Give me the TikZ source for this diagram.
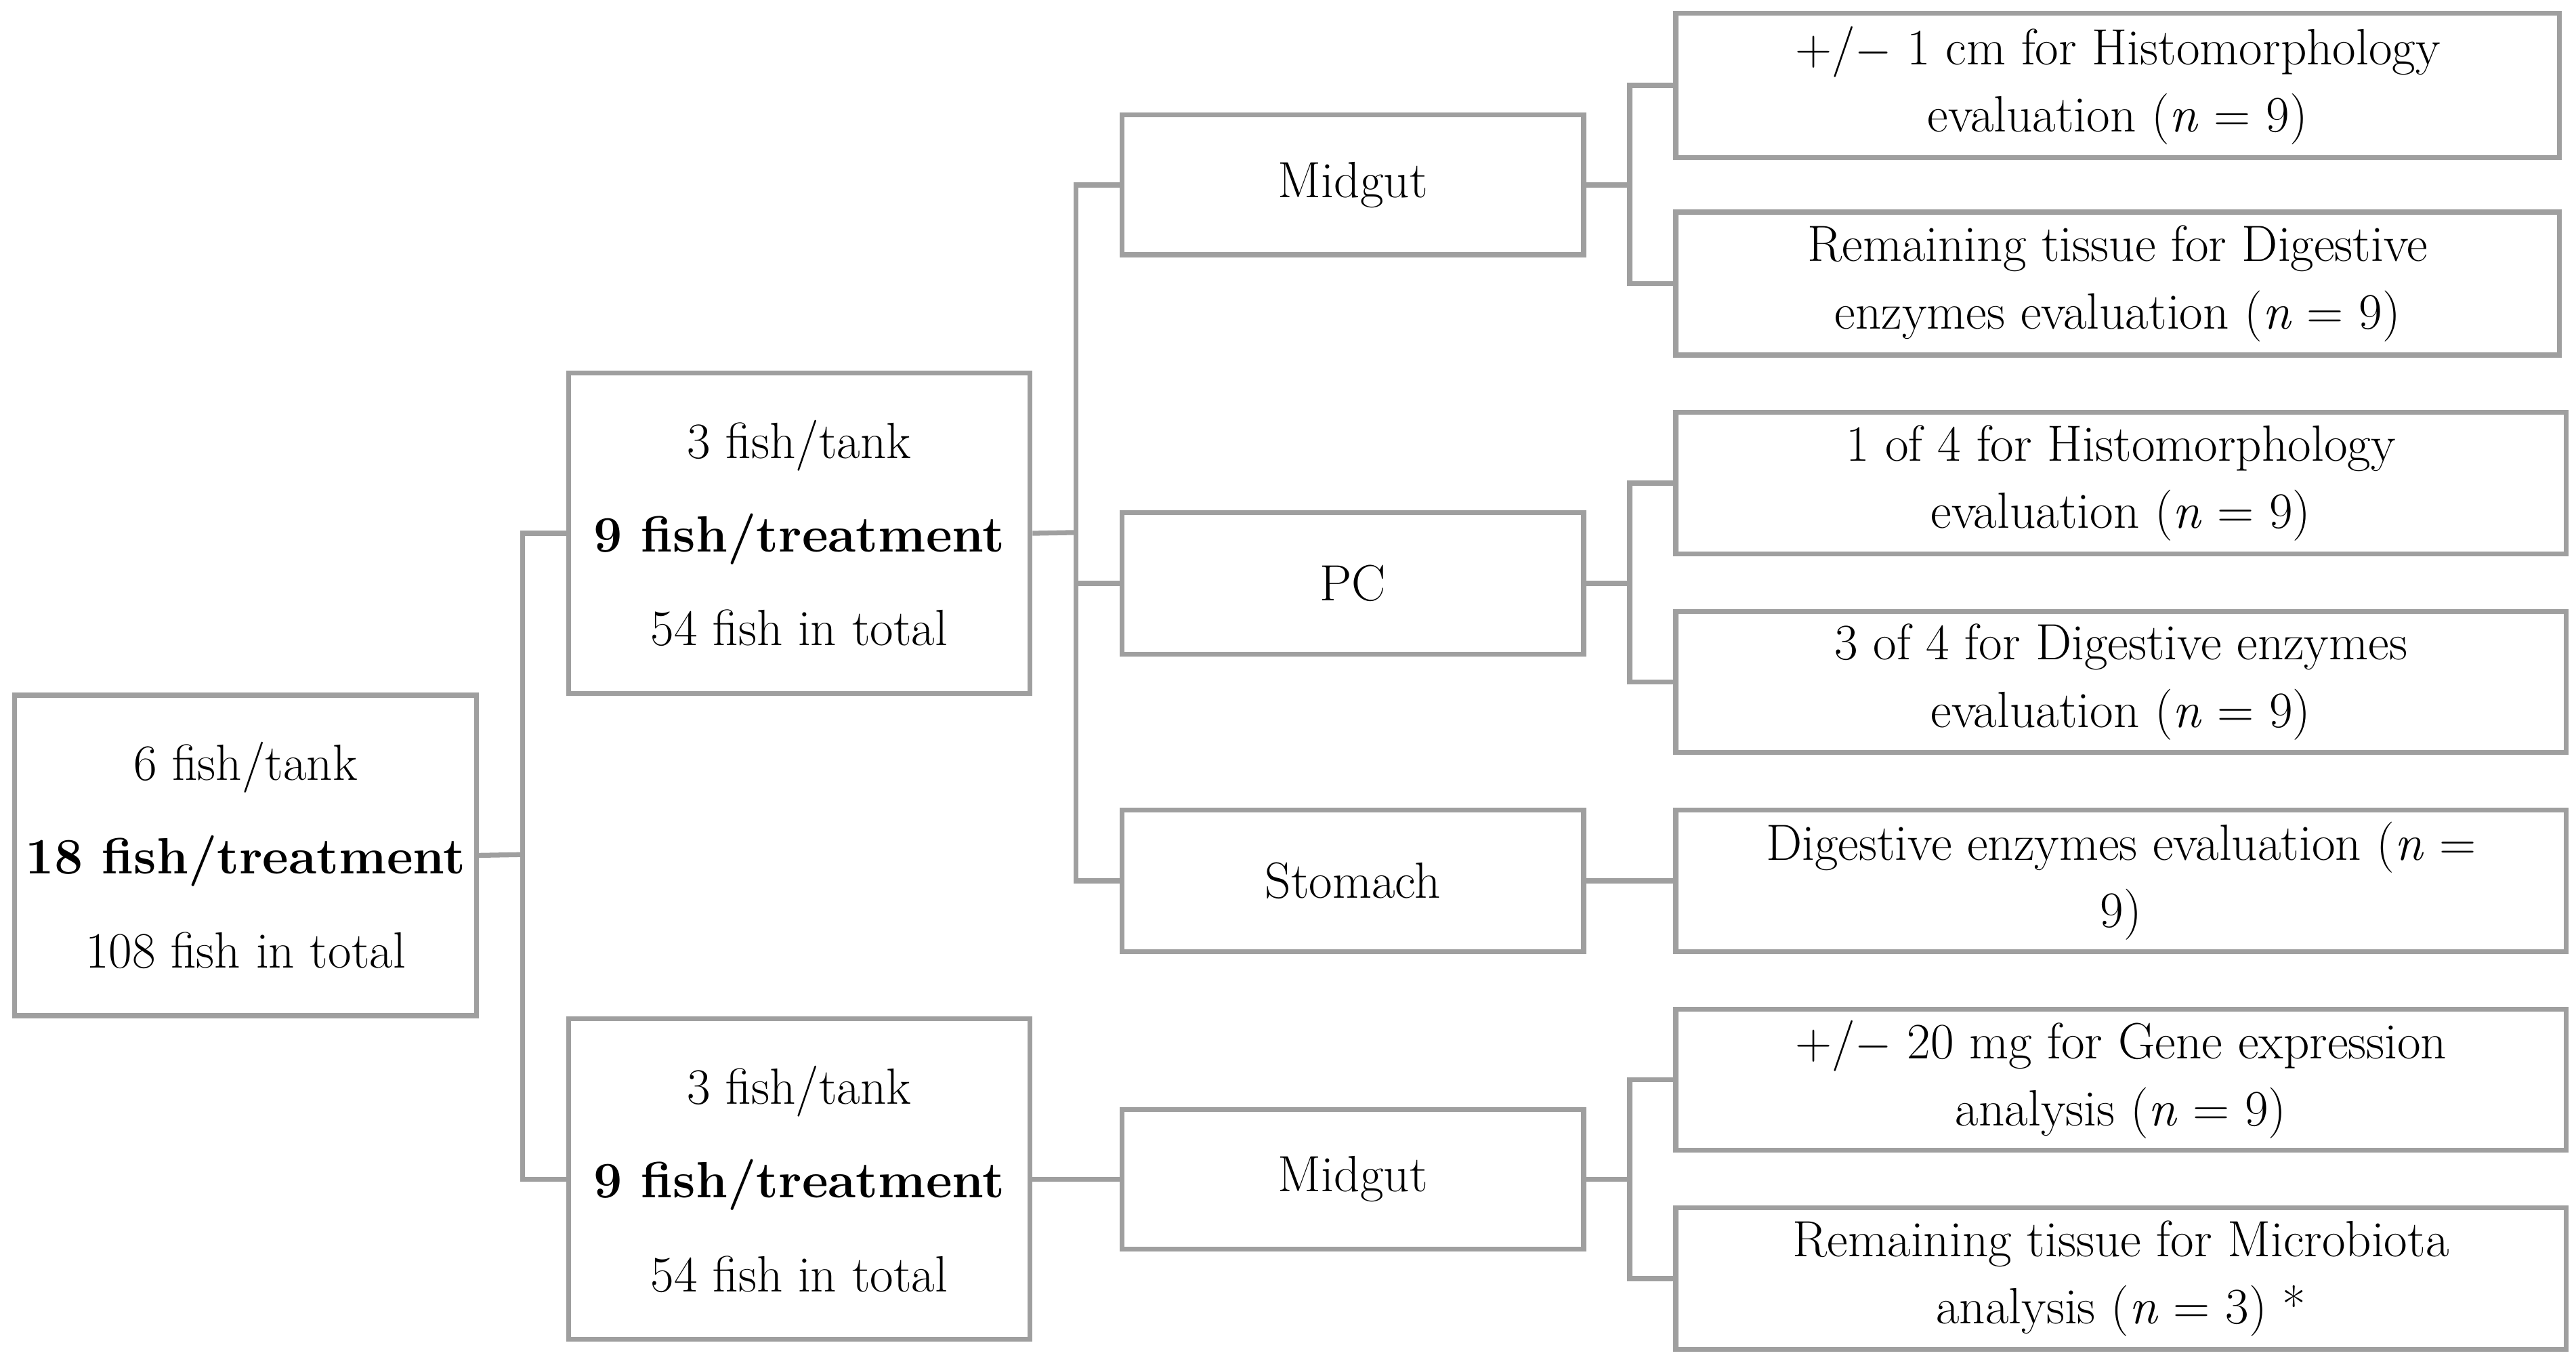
\documentclass[tikz,border=0pt]{standalone}
\begin{document}
\begin{tikzpicture}[x=0.5pt,y=-0.5pt,
  box/.style={draw=gray!75,line width=1.5pt,align=center,font=\fontsize{15.5}{20.5}\selectfont,inner sep=0pt},
  conn/.style={draw=gray!75,line width=1.5pt}]
\useasboundingbox (0,0) rectangle (1568,831);
\newcommand\bx[6]{\node[box,minimum width={(#3-#2)*0.5pt},minimum height={(#5-#4)*0.5pt}] (#1) at ({(#2+#3)/2},{(#4+#5)/2}) {#6};}
\bx{A}{9}{290}{423}{618}{6 fish/tank\\[8pt]\textbf{18 fish/treatment}\\[8pt]108 fish in total}
\bx{B1}{346}{627}{227}{422}{3 fish/tank\\[8pt]\textbf{9 fish/treatment}\\[8pt]54 fish in total}
\bx{B2}{346}{627}{620}{815}{3 fish/tank\\[8pt]\textbf{9 fish/treatment}\\[8pt]54 fish in total}
\bx{C1}{683}{964}{70}{155}{Midgut}
\bx{C2}{683}{964}{312}{398}{PC}
\bx{C3}{683}{964}{493}{579}{Stomach}
\bx{C4}{683}{964}{675}{760}{Midgut}
\bx{D1}{1020}{1558}{8}{96}{+/$-$ 1 cm for Histomorphology\\evaluation (\textit{n} = 9)}
\bx{D2}{1020}{1558}{129}{216}{Remaining tissue for Digestive\\enzymes evaluation (\textit{n} = 9)}
\bx{D3}{1020}{1562}{251}{337}{1 of 4 for Histomorphology\\evaluation (\textit{n} = 9)}
\bx{D4}{1020}{1562}{372}{458}{3 of 4 for Digestive enzymes\\evaluation (\textit{n} = 9)}
\bx{D5}{1020}{1562}{493}{579}{Digestive enzymes evaluation (\textit{n} =\\9)}
\bx{D6}{1020}{1562}{614}{700}{+/$-$ 20 mg for Gene expression\\analysis (\textit{n} = 9)}
\bx{D7}{1020}{1562}{735}{821}{Remaining tissue for Microbiota\\analysis (\textit{n} = 3) *}
\coordinate (jA) at (318,520);
\draw[conn] (A.east) -- (jA);
\draw[conn] (B1.west) -| (jA) |- (B2.west);
\coordinate (jB) at (655,324);
\draw[conn] (B1.east) -- (jB);
\draw[conn] (C1.west) -| (jB) |- (C3.west);
\draw[conn] (jB |- C2.west) -- (C2.west);
\draw[conn] (B2.east) -- (C4.west);
\draw[conn] (C3.east) -- (D5.west);
\coordinate (jx) at (992,0);
\foreach \c/\p/\q in {C1/D1/D2,C2/D3/D4,C4/D6/D7}{
  \draw[conn] (\c.east) -- (jx |- \c.east);
  \draw[conn] (\p.west) -- (jx |- \p.west) -- (jx |- \q.west) -- (\q.west);
}
\end{tikzpicture}
\end{document}
